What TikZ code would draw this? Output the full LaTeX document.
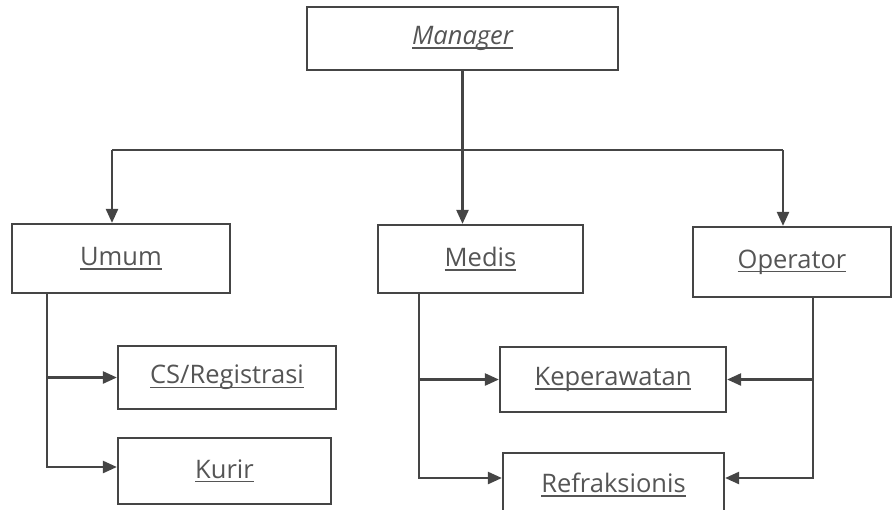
\documentclass[tikz,border=0pt]{standalone}
\usepackage{fontspec}
\setmainfont{Open Sans}
\usetikzlibrary{arrows.meta}

\definecolor{lijn}{HTML}{454545}
\definecolor{tekst}{HTML}{555555}

% underline a little below the baseline
\newcommand\ulbl[1]{\setbox0\hbox{#1}\rlap{\rule[-4pt]{\wd0}{1.3pt}}\box0}

\begin{document}
\begin{tikzpicture}[x=1pt, y=-1pt, font=\fontsize{25.5}{30}\selectfont\color{tekst},
  box/.style={draw=lijn, line width=2.2pt, rectangle, inner sep=0pt},
  arr/.style={draw=lijn, line width=2.4pt, -{Triangle[length=14pt,width=12pt]}},
  lin/.style={draw=lijn, line width=2.4pt}]

\clip (0,0) rectangle (893,509) ;

% boxes
\node[box, minimum width=311pt, minimum height=63pt] (manager) at (462.5,38.5) {\ulbl{\itshape Manager}} ;
\node[box, minimum width=218pt, minimum height=69pt] (umum) at (121,258.5) {\ulbl{Umum}} ;
\node[box, minimum width=205pt, minimum height=68pt] (medis) at (480.5,259) {\ulbl{Medis}} ;
\node[box, minimum width=198pt, minimum height=70pt] (operator) at (792,262) {\ulbl{Operator}} ;
\node[box, minimum width=218pt, minimum height=63pt] (cs) at (227,377.5) {\ulbl{CS/Registrasi}} ;
\node[box, minimum width=213pt, minimum height=66pt] (kurir) at (224.5,471) {\ulbl{Kurir}} ;
\node[box, minimum width=226pt, minimum height=65pt] (kep) at (613,379.5) {\ulbl{Keperawatan}} ;
\node[box, minimum width=221pt, minimum height=64pt] (ref) at (613.5,485) {\ulbl{Refraksionis}} ;

% top level
\coordinate (jl) at (112,150) ;
\coordinate (jr) at (783,150) ;
\draw[lin] (jl) -- (jr) ;
\draw[arr] (manager.south) -- (manager.south |- medis.north) ;
\draw[arr] (jl) -- (jl |- umum.north) ;
\draw[arr] (jr) -- (jr |- operator.north) ;

% umum
\draw[arr] ([xshift=-74pt]umum.south) |- (cs.west) ;
\draw[arr] ([xshift=-74pt]umum.south) |- ([yshift=4pt]kurir.west) ;

% medis
\draw[arr] ([xshift=-61.5pt]medis.south) |- (kep.west) ;
\draw[arr] ([xshift=-61.5pt]medis.south) |- ([yshift=7pt]ref.west) ;

% operator
\draw[arr] ([xshift=21pt]operator.south) |- (kep.east) ;
\draw[arr] ([xshift=21pt]operator.south) |- ([yshift=7pt]ref.east) ;

\end{tikzpicture}
\end{document}
